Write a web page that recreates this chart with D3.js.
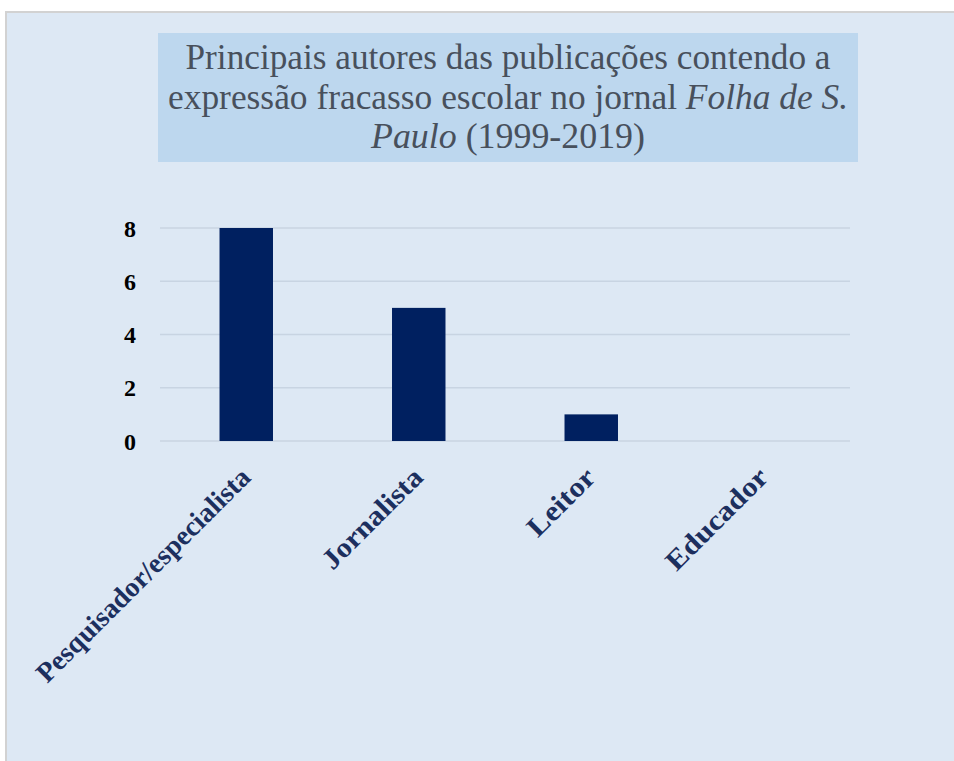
<!DOCTYPE html>
<html><head><meta charset="utf-8">
<script src="https://cdn.jsdelivr.net/npm/d3@7"></script>
<style>body{margin:0;background:#fff;}svg{display:block;} text{font-family:"Liberation Serif","Times New Roman",serif;}</style>
</head><body>
<script>
const categories = ["Pesquisador/especialista","Jornalista","Leitor","Educador"];
const values = [8,5,1,0];
const yTicks = [0,2,4,6,8];
const titleLines = [
  [{t:"Principais autores das publicações contendo a", i:false}],
  [{t:"expressão fracasso escolar no jornal ", i:false},{t:"Folha de S.", i:true}],
  [{t:"Paulo", i:true},{t:" (1999-2019)", i:false}]
];
const titleWidths = [645, 680, 274];
const labelLengths = [290, 130, 84, 132];

const W=954,H=761;
const svg=d3.select("body").append("svg").attr("width",W).attr("height",H);
const serif="'Liberation Serif','Times New Roman',serif";
// panel
svg.append("rect").attr("x",6).attr("y",12).attr("width",W+10).attr("height",H+10)
  .attr("fill","#dde8f4").attr("stroke","#d2d2d2").attr("stroke-width",2);
// title box
svg.append("rect").attr("x",158).attr("y",33).attr("width",700).attr("height",129).attr("fill","#bdd7ee");
titleLines.forEach((line,li)=>{
  const t=svg.append("text").attr("text-anchor","middle").attr("x",508).attr("y",69+li*39.5)
    .style("font-family",serif).attr("font-size",35).attr("fill","#48505c")
    .attr("textLength",titleWidths[li]).attr("lengthAdjust","spacingAndGlyphs");
  line.forEach(seg=>{
    t.append("tspan").text(seg.t).attr("font-style",seg.i?"italic":"normal");
  });
});

const x=d3.scaleBand().domain(categories).range([160,850]).paddingInner(0.69).paddingOuter(0.345);
const y=d3.scaleLinear().domain([0,8]).range([441,228]);

// gridlines
svg.append("g").selectAll("line").data(yTicks).join("line")
  .attr("x1",160).attr("x2",850).attr("y1",d=>y(d)).attr("y2",d=>y(d))
  .attr("stroke","#c8d4e2").attr("stroke-width",1.3);

// y axis
const ya=svg.append("g").attr("transform","translate(160,0)")
  .call(d3.axisLeft(y).tickValues(yTicks).tickSize(0).tickPadding(24));
ya.select(".domain").remove();
ya.selectAll("text").style("font-family",serif)
  .attr("font-size",24).attr("font-weight","bold").attr("fill","#000").attr("dy","0.34em");

// bars
svg.append("g").selectAll("rect").data(values).join("rect")
  .attr("x",(d,i)=>x(categories[i])).attr("width",x.bandwidth())
  .attr("y",d=>y(d)).attr("height",d=>y(0)-y(d)).attr("fill","#002060");

// x axis
const xa=svg.append("g").attr("transform","translate(0,441)")
  .call(d3.axisBottom(x).tickSize(0).tickPadding(0));
xa.select(".domain").remove();
xa.selectAll("text").style("font-family",serif)
  .attr("font-size",28).attr("font-weight","bold").attr("fill","#1c2f5e")
  .attr("text-anchor","end").attr("dy",0)
  .attr("textLength",(d,i)=>labelLengths[i]).attr("lengthAdjust","spacingAndGlyphs")
  .attr("transform","translate(6,38) rotate(-45)");
</script>
</body></html>
